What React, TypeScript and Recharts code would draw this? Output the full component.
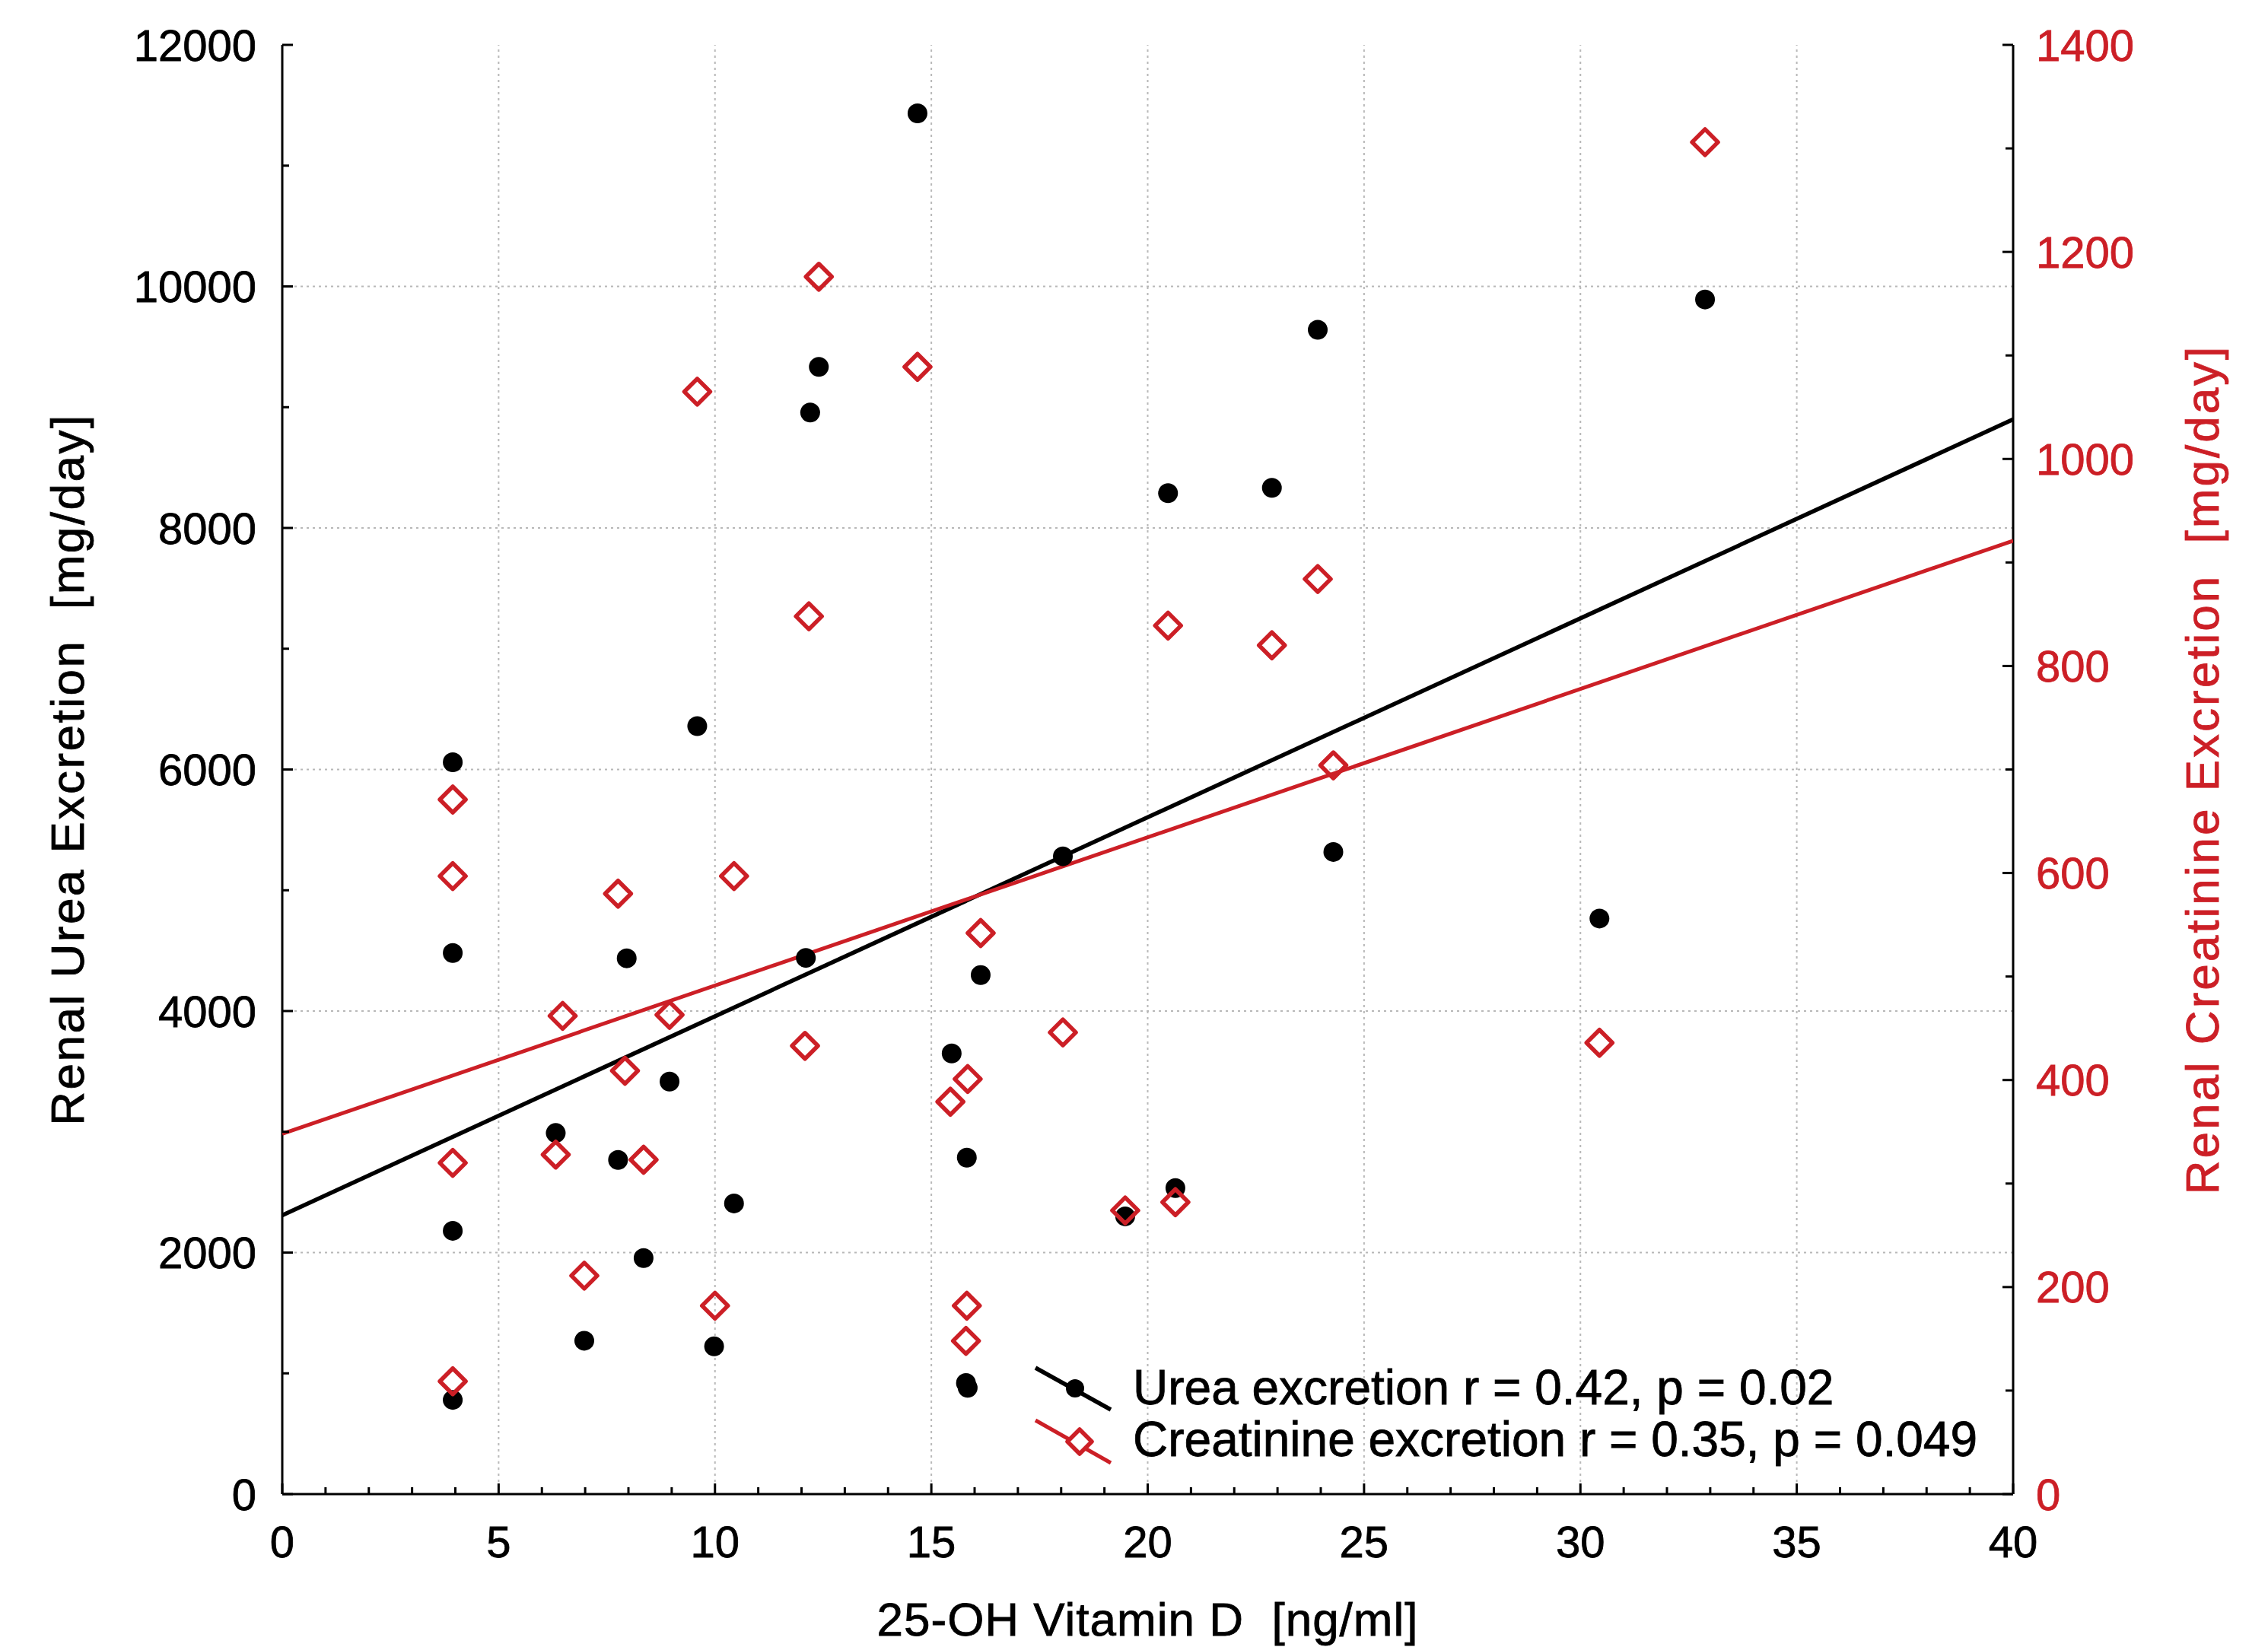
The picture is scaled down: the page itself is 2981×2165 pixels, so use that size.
import React from 'react';
import { ComposedChart, Scatter, XAxis, YAxis, ReferenceLine, Legend } from 'recharts';

// ---------- data ----------
const ureaVitD = [3.94, 3.94, 3.94, 3.94, 6.32, 7.76, 7.96, 6.98, 8.35, 8.95, 9.59, 9.98, 10.44, 12.1, 12.2, 12.4, 14.68, 15.47, 15.82, 15.8, 15.84, 16.14, 18.04, 19.48, 20.64, 20.47, 22.87, 23.93, 24.29, 30.44, 32.88];
const ureaValues = [6060, 4480, 2180, 780, 2990, 2767, 4437, 1270, 1954, 3416, 6359, 1223, 2407, 4440, 8956, 9334, 11433, 3649, 2786, 920, 880, 4298, 5281, 2300, 2534, 8288, 8332, 9641, 5317, 4766, 9892];

const creatVitD = [3.94, 3.94, 3.94, 3.94, 6.48, 6.32, 6.98, 7.76, 7.92, 8.35, 8.95, 9.59, 10.0, 10.44, 12.08, 12.17, 12.4, 14.68, 15.44, 15.84, 15.82, 15.8, 16.14, 18.04, 19.48, 20.64, 20.47, 22.87, 23.93, 24.29, 30.44, 32.88];
const creatValues = [671, 597, 320, 109, 462, 328, 211, 580, 409, 323, 463, 1065, 182, 597, 433, 848, 1176, 1089, 379, 401, 182, 148, 542, 446, 274, 282, 839, 820, 884, 704, 436, 1306];

// regression lines (endpoints)
const ureaFitX = [0, 40];
const ureaFitY = [2309, 8899];
const creatFitX = [0, 40];
const creatFitY = [348, 921];

const seriesNames = ['Urea excretion r = 0.42, p = 0.02', 'Creatinine excretion r = 0.35, p = 0.049'];

// ---------- axes ----------
const xTicks = [0, 1, 2, 3, 4, 5, 6, 7, 8, 9, 10, 11, 12, 13, 14, 15, 16, 17, 18, 19, 20, 21, 22, 23, 24, 25, 26, 27, 28, 29, 30, 31, 32, 33, 34, 35, 36, 37, 38, 39, 40];
const leftTicks = [0, 1000, 2000, 3000, 4000, 5000, 6000, 7000, 8000, 9000, 10000, 11000, 12000];
const rightTicks = [0, 100, 200, 300, 400, 500, 600, 700, 800, 900, 1000, 1100, 1200, 1300, 1400];
const gridX = [5, 10, 15, 20, 25, 30, 35];
const gridY = [2000, 4000, 6000, 8000, 10000];

const xTitle = '25-OH Vitamin D  [ng/ml]';
const leftTitle = 'Renal Urea Excretion  [mg/day]';
const rightTitle = 'Renal Creatinine Excretion  [mg/day]';

const FONT = '"Liberation Sans", Arial, Helvetica, sans-serif';
const RED = '#cc1f26';
const TICK_FS = 58;
const TITLE_FS = 62;
const LEGEND_FS = 64;
const PRE = { whiteSpace: 'pre' as const };

const ureaPoints = ureaVitD.map((x, i) => ({ x, y: ureaValues[i] }));
const creatPoints = creatVitD.map((x, i) => ({ x, y: creatValues[i] }));
const ureaFit = ureaFitX.map((x, i) => ({ x, y: ureaFitY[i] }));
const creatFit = creatFitX.map((x, i) => ({ x, y: creatFitY[i] }));

// ---------- ticks ----------
const BottomTick = (props: any) => {
  const { x, y, payload } = props;
  const v = payload.value;
  const major = v % 5 === 0;
  return (
    <g>
      <line x1={x} y1={y} x2={x} y2={y - (major ? 14 : 9)} stroke="#000" strokeWidth={3} />
      {major && (
        <text x={x} y={y + 62} textAnchor="middle" dominantBaseline="central" fontSize={TICK_FS} fontFamily={FONT} fill="#000" stroke="#000" strokeWidth={0.8}>
          {v}
        </text>
      )}
    </g>
  );
};

const TopTick = (props: any) => {
  const { x, y, payload } = props;
  const major = payload.value % 5 === 0;
  return <line x1={x} y1={y} x2={x} y2={y + (major ? 14 : 9)} stroke="#000" strokeWidth={3} />;
};

const LeftTick = (props: any) => {
  const { x, y, payload } = props;
  const v = payload.value;
  const major = v % 2000 === 0;
  return (
    <g>
      <line x1={x} y1={y} x2={x + (major ? 14 : 9)} y2={y} stroke="#000" strokeWidth={3} />
      {major && (
        <text x={x - 34} y={y} textAnchor="end" dominantBaseline="central" fontSize={TICK_FS} fontFamily={FONT} fill="#000" stroke="#000" strokeWidth={0.8}>
          {v}
        </text>
      )}
    </g>
  );
};

const RightTick = (props: any) => {
  const { x, y, payload } = props;
  const v = payload.value;
  const major = v % 200 === 0;
  return (
    <g>
      <line x1={x} y1={y} x2={x - (major ? 14 : 10)} y2={y} stroke="#000" strokeWidth={3} />
      {major && (
        <text x={x + 30} y={y} textAnchor="start" dominantBaseline="central" fontSize={TICK_FS} fontFamily={FONT} fill={RED} stroke={RED} strokeWidth={0.8}>
          {v}
        </text>
      )}
    </g>
  );
};

// ---------- markers ----------
const Dot = (props: any) => {
  const { cx, cy } = props;
  if (cx == null || cy == null) return <g />;
  return <circle cx={cx} cy={cy} r={13} fill="#000" />;
};

const Diamond = (props: any) => {
  const { cx, cy } = props;
  if (cx == null || cy == null) return <g />;
  const r = 17;
  return (
    <path
      d={`M${cx},${cy - r} L${cx + r},${cy} L${cx},${cy + r} L${cx - r},${cy} Z`}
      fill="none"
      stroke={RED}
      strokeWidth={5.5}
      strokeLinejoin="round"
    />
  );
};

const NoShape = () => <g />;

// ---------- legend ----------
const LegendContent = () => {
  return (
    <svg width={1300} height={180} style={{ display: 'block', overflow: 'visible' }}>
      <line x1={21} y1={28} x2={120} y2={83} stroke="#000" strokeWidth={5.5} />
      <circle cx={73} cy={55} r={12} fill="#000" />
      <text x={149} y={76} fontSize={LEGEND_FS} fontFamily={FONT} fill="#000" stroke="#000" strokeWidth={0.8} style={PRE}>{seriesNames[0]}</text>
      <line x1={21} y1={97} x2={120} y2={153} stroke={RED} strokeWidth={5} />
      <path d="M79,109 L95,125 L79,141 L63,125 Z" fill="#fff" stroke={RED} strokeWidth={5.5} strokeLinejoin="round" />
      <text x={149} y={144} fontSize={LEGEND_FS} fontFamily={FONT} fill="#000" stroke="#000" strokeWidth={0.8} style={PRE}>{seriesNames[1]}</text>
    </svg>
  );
};

// ---------- titles ----------
const LeftTitle = (props: any) => {
  const vb = props.viewBox || {};
  const cx = vb.x + 88;
  const cy = vb.y + vb.height / 2;
  return (
    <text transform={`translate(${cx},${cy}) rotate(-90)`} textAnchor="middle" dominantBaseline="central" fontSize={TITLE_FS} fontFamily={FONT} letterSpacing={2.5} fill="#000" stroke="#000" strokeWidth={0.8} style={PRE}>
      {leftTitle}
    </text>
  );
};

const RightTitle = (props: any) => {
  const vb = props.viewBox || {};
  const cx = vb.x + 248;
  const cy = vb.y + vb.height / 2;
  return (
    <text transform={`translate(${cx},${cy}) rotate(-90)`} textAnchor="middle" dominantBaseline="central" fontSize={TITLE_FS} fontFamily={FONT} letterSpacing={3} fill={RED} stroke={RED} strokeWidth={0.8} style={PRE}>
      {rightTitle}
    </text>
  );
};

const BottomTitle = (props: any) => {
  const vb = props.viewBox || {};
  const cx = vb.x + vb.width / 2;
  const cy = vb.y + 164;
  return (
    <text x={cx} y={cy} textAnchor="middle" dominantBaseline="central" fontSize={TITLE_FS} fontFamily={FONT} letterSpacing={1} fill="#000" stroke="#000" strokeWidth={0.8} style={PRE}>
      {xTitle}
    </text>
  );
};

export default function App() {
  return (
    <div style={{ position: 'absolute', left: 0, top: 0, background: '#fff' }}>
      <ComposedChart width={2981} height={2165} margin={{ top: 59, right: 0, bottom: 0, left: 0 }}>
        <XAxis
          xAxisId={0}
          dataKey="x"
          type="number"
          domain={[0, 40]}
          allowDataOverflow
          ticks={xTicks}
          interval={0}
          height={201}
          tickSize={0}
          tickMargin={0}
          tickLine={false}
          axisLine={{ stroke: '#000', strokeWidth: 3 }}
          tick={<BottomTick />}
          label={<BottomTitle />}
        />
        <XAxis
          xAxisId="top"
          orientation="top"
          dataKey="x"
          type="number"
          domain={[0, 40]}
          allowDataOverflow
          ticks={xTicks}
          interval={0}
          height={0}
          tickSize={0}
          tickMargin={0}
          tickLine={false}
          axisLine={{ stroke: '#000', strokeWidth: 3 }}
          tick={<TopTick />}
        />
        <YAxis
          yAxisId="left"
          dataKey="y"
          type="number"
          domain={[0, 12000]}
          allowDataOverflow
          ticks={leftTicks}
          interval={0}
          width={371}
          tickSize={0}
          tickMargin={0}
          tickLine={false}
          axisLine={{ stroke: '#000', strokeWidth: 3 }}
          tick={<LeftTick />}
          label={<LeftTitle />}
        />
        <YAxis
          yAxisId="right"
          orientation="right"
          dataKey="y"
          type="number"
          domain={[0, 1400]}
          allowDataOverflow
          ticks={rightTicks}
          interval={0}
          width={335}
          tickSize={0}
          tickMargin={0}
          tickLine={false}
          axisLine={{ stroke: '#000', strokeWidth: 3 }}
          tick={<RightTick />}
          label={<RightTitle />}
        />

        {gridX.map((v) => (
          <ReferenceLine key={`gx${v}`} x={v} xAxisId={0} yAxisId="left" stroke="#b8b8b8" strokeWidth={2} strokeDasharray="3 5" />
        ))}
        {gridY.map((v) => (
          <ReferenceLine key={`gy${v}`} y={v} xAxisId={0} yAxisId="left" stroke="#b8b8b8" strokeWidth={2} strokeDasharray="3 5" />
        ))}

        <Scatter
          data={ureaFit}
          xAxisId="top"
          yAxisId="left"
          line={{ stroke: '#000', strokeWidth: 5.5 }}
          shape={<NoShape />}
          legendType="none"
          isAnimationActive={false}
        />
        <Scatter
          data={creatFit}
          xAxisId="top"
          yAxisId="right"
          line={{ stroke: RED, strokeWidth: 5 }}
          shape={<NoShape />}
          legendType="none"
          isAnimationActive={false}
        />

        <Scatter
          name={seriesNames[0]}
          data={ureaPoints}
          xAxisId={0}
          yAxisId="left"
          fill="#000"
          shape={<Dot />}
          isAnimationActive={false}
        />
        <Scatter
          name={seriesNames[1]}
          data={creatPoints}
          xAxisId={0}
          yAxisId="right"
          fill={RED}
          shape={<Diamond />}
          isAnimationActive={false}
        />

        <Legend
          layout="horizontal"
          align="center"
          verticalAlign="middle"
          content={<LegendContent />}
          wrapperStyle={{ position: 'absolute', left: 1340, top: 1770, width: 1300, height: 180, right: 'auto', bottom: 'auto' }}
        />
      </ComposedChart>
    </div>
  );
}
